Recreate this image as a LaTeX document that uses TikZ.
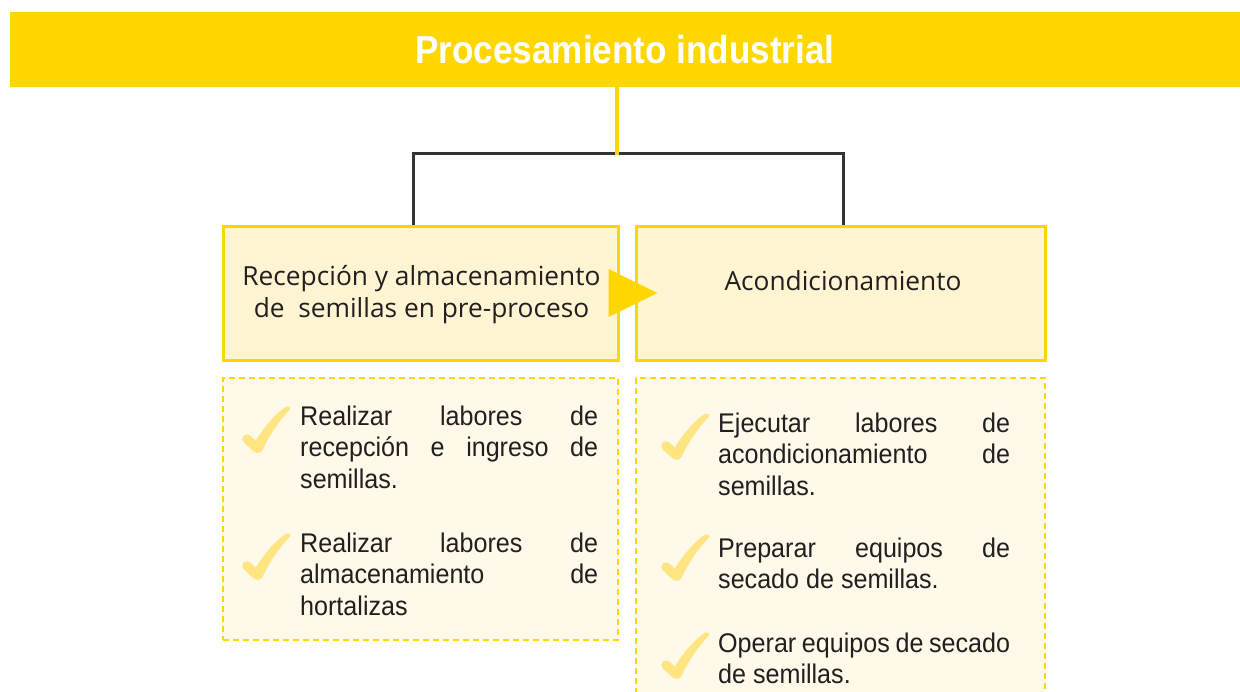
\documentclass[tikz,border=0pt]{standalone}
\usepackage{fontspec}
\setmainfont{Open Sans}
\newfontfamily\headfont[FakeStretch=0.9]{Liberation Sans}
\newfontfamily\listfont[FakeStretch=0.93]{Liberation Sans}
\newfontfamily\boxfont{Open Sans}
\definecolor{hdr}{HTML}{FFD700}
\definecolor{boxfill}{HTML}{FFF5D3}
\definecolor{dashfill}{HTML}{FEF9E9}
\definecolor{chkcol}{HTML}{FFE581}
\definecolor{txt}{HTML}{231F20}
\definecolor{brk}{HTML}{333333}
\tikzset{
  headbar/.style={rectangle, fill=hdr, inner sep=0pt, minimum width=1230pt, minimum height=75pt,
    text=white, font=\fontsize{39}{45}\selectfont\headfont\bfseries},
  solidbox/.style={rectangle, draw=hdr, line width=3pt, fill=boxfill, inner sep=0pt},
  dashbox/.style={rectangle, draw=hdr, line width=2pt, dash pattern=on 6pt off 4pt, fill=dashfill, inner sep=0pt},
  boxtext/.style={inner sep=0pt, anchor=base, text=txt, font=\fontsize{26.3}{32}\selectfont\boxfont},
  listtext/.style={inner sep=0pt, anchor=base west, text=txt, font=\fontsize{27}{31.5}\selectfont\listfont},
  yline/.style={draw=hdr, line width=4pt},
  bline/.style={draw=brk, line width=3pt, line join=miter},
  chkmark/.pic={
    \draw[chkcol, line width=9.5pt, line cap=round] (4,34) -- (14,43);
    \fill[chkcol] (9,42) .. controls (19,24) and (31,10) .. (43,1.5)
      .. controls (45,0.5) and (48.5,2) .. (47,4.5)
      .. controls (35,17) and (26,31) .. (19.5,45)
      .. controls (17,49.5) and (11,48.5) .. (9,42) -- cycle;
  }
}
\begin{document}
\begin{tikzpicture}[x=1pt,y=-1pt]
\clip (0,0) rectangle (1240,691);
\fill[white] (0,0) rectangle (1240,691);

% header
\node[headbar] (head) at (625,49.5) {Procesamiento industrial};

% boxes
\node[solidbox, minimum width=395pt, minimum height=134pt] (b1) at (420.5,293) {};
\node[solidbox, minimum width=409pt, minimum height=134pt] (b2) at (840.5,293) {};
\node[dashbox, minimum width=395pt, minimum height=262pt] (d1) at (420.5,509) {};
\node[dashbox, minimum width=409pt, minimum height=342pt] (d2) at (840.5,549) {};

% connectors
\coordinate (jm) at (617,153);
\coordinate (jl) at (413,153);
\coordinate (jr) at (843,153);
\draw[bline] (b1.north -| jl) -- (jl) -- (jr) -- (b2.north -| jr);
\draw[yline] (head.south -| jm) -- ([yshift=-1.5pt]jm);

% arrow between boxes
\fill[hdr] ([shift={(-11,-24)}]b1.east) -- ([shift={(-11,24)}]b1.east) -- ([shift={(38,0)}]b1.east) -- cycle;

% box texts
\node[boxtext] (b1t) at (421.5,285) {\parbox[t]{392pt}{\centering Recepción y almacenamiento\\de~ semillas en pre-proceso}};
\node[boxtext] (b2t) at (843,290) {Acondicionamiento};

% check marks
\pic (c1) at (243,405) {chkmark};
\pic (c2) at (243,532) {chkmark};
\pic (c3) at (662,412) {chkmark};
\pic (c4) at (662,533) {chkmark};
\pic (c5) at (662,631) {chkmark};

% list texts
\node[listtext] (l1) at (300,425) {\parbox[t]{298pt}{\makebox[298pt][s]{Realizar labores de}\\\makebox[298pt][s]{recepción e ingreso de}\\semillas.}};
\node[listtext] (l2) at (300,552) {\parbox[t]{298pt}{\makebox[298pt][s]{Realizar labores de}\\\makebox[298pt][s]{almacenamiento de}\\hortalizas}};
\node[listtext] (r1) at (718,432) {\parbox[t]{292pt}{\makebox[292pt][s]{Ejecutar labores de}\\\makebox[292pt][s]{acondicionamiento de}\\semillas.}};
\node[listtext] (r2) at (718,557) {\parbox[t]{292pt}{\makebox[292pt][s]{Preparar equipos de}\\secado de semillas.}};
\node[listtext] (r3) at (718,652) {\parbox[t]{292pt}{Operar equipos de secado\\de semillas.}};
\end{tikzpicture}
\end{document}
